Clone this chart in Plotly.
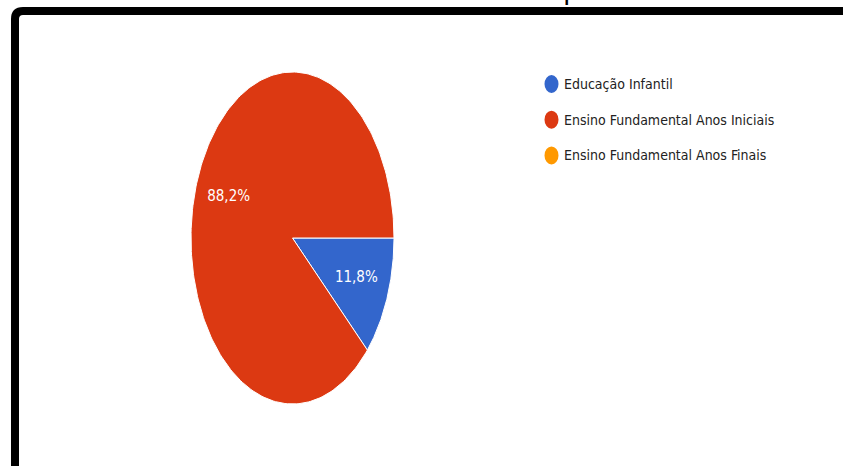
import numpy as np
import plotly.graph_objects as go

# Data
categories = ["Educação Infantil", "Ensino Fundamental Anos Iniciais", "Ensino Fundamental Anos Finais"]
percentages = [11.8, 88.2, 0.0]
colors = ["#3366cc", "#dc3912", "#ff9900"]
title_text = "Gráfico 3 – Modalidade em que atua"

W, H = 843, 466
FONT = "DejaVu Sans Condensed, Liberation Sans Narrow, sans-serif"

# Pie box (pixels): centre and radii of the (stretched) pie
cx, cy, rx, ry = 292.5, 238.0, 101.5, 166.0
start_deg = 90.0  # first slice starts at 3 o'clock, clockwise

fig = go.Figure()

total = sum(percentages)
theta0 = start_deg
for name, val, col in zip(categories, percentages, colors):
    if val <= 0:
        continue
    sweep = 360.0 * val / total
    t = np.radians(np.linspace(theta0, theta0 + sweep, 240))
    xs = np.concatenate([[0.0], np.sin(t), [0.0]])
    ys = np.concatenate([[0.0], np.cos(t), [0.0]])
    fig.add_trace(go.Scatter(
        x=xs, y=ys, mode="lines", fill="toself", fillcolor=col,
        line=dict(color="white", width=1), name=name, showlegend=False,
        hoverinfo="name",
    ))
    mid = np.radians(theta0 + sweep / 2)
    lr = 0.675
    fig.add_trace(go.Scatter(
        x=[lr * np.sin(mid)], y=[lr * np.cos(mid)], mode="text",
        text=[f"{val:.1f}%".replace(".", ",")],
        textfont=dict(family=FONT, size=15, color="white"),
        showlegend=False, hoverinfo="skip",
    ))
    theta0 += sweep

fig.update_xaxes(domain=[(cx - rx) / W, (cx + rx) / W], range=[-1, 1],
                 visible=False, fixedrange=True)
fig.update_yaxes(domain=[1 - (cy + ry) / H, 1 - (cy - ry) / H], range=[-1, 1],
                 visible=False, fixedrange=True)

# Legend drawn by hand: elliptical swatches and labels
leg_x, leg_y0, leg_dy = 551.5, 84.0, 35.7
shapes = []
annotations = []
for i, (name, col) in enumerate(zip(categories, colors)):
    yc = leg_y0 + i * leg_dy
    shapes.append(dict(type="circle", xref="paper", yref="paper",
                       x0=(leg_x - 7) / W, x1=(leg_x + 7) / W,
                       y0=1 - (yc + 9) / H, y1=1 - (yc - 9) / H,
                       fillcolor=col, line=dict(width=0)))
    annotations.append(dict(x=562 / W, y=1 - yc / H, xref="paper", yref="paper",
                            xanchor="left", yanchor="middle", showarrow=False,
                            text=name, font=dict(family=FONT, size=14, color="#222222")))

# Black frame with rounded top-left corner
fx, fy, rc = 15.0 / W, 1 - 11.0 / H, 8.0
path = (f"M {fx},-0.1 L {fx},{1 - (11 + rc) / H} "
        f"Q {fx},{fy} {(15 + rc) / W},{fy} L 1.1,{fy}")
shapes.append(dict(type="path", xref="paper", yref="paper", path=path,
                   line=dict(color="black", width=8)))

# Title sitting mostly above the page edge
annotations.append(dict(x=428 / W, y=1 - 8 / H, xref="paper", yref="paper",
                        xanchor="center", yanchor="bottom", showarrow=False,
                        text=title_text, font=dict(family=FONT, size=30, color="#000000")))

fig.update_layout(
    width=W, height=H, margin=dict(l=0, r=0, t=0, b=0),
    paper_bgcolor="white", plot_bgcolor="rgba(0,0,0,0)",
    shapes=shapes, annotations=annotations, showlegend=False,
)

fig.write_html("out.html")
